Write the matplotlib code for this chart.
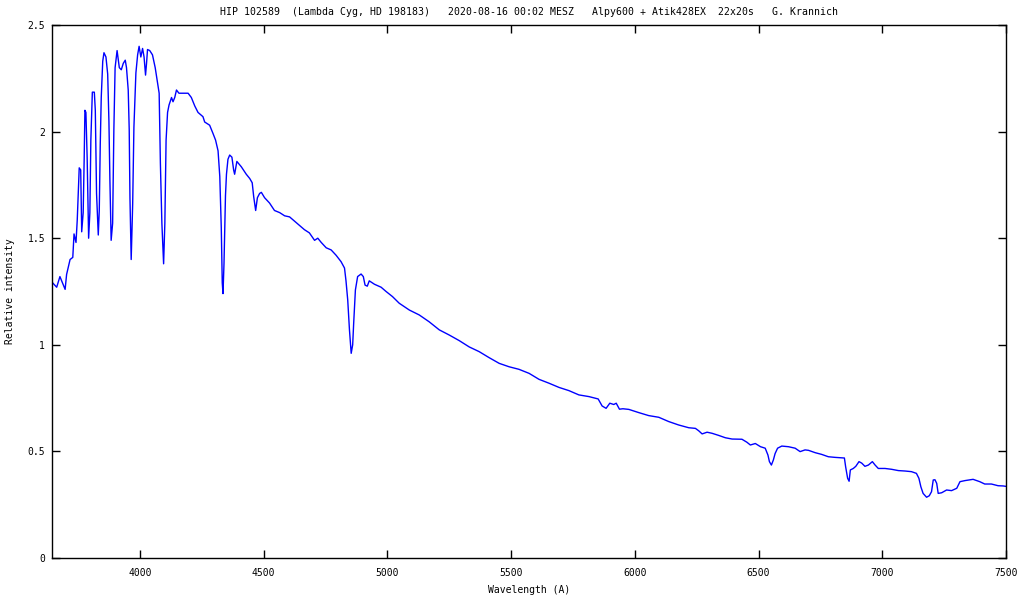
import matplotlib
matplotlib.use("Agg")
import matplotlib.pyplot as plt

# Spectrum (wavelength in Angstrom, relative intensity)
wavelength = [
    3648, 3664, 3677, 3691, 3698, 3704, 3718, 3729, 3734, 3742, 3747, 3755, 3761, 3765,
    3771, 3775, 3778, 3782, 3787, 3793, 3798, 3802, 3808, 3816, 3820, 3825, 3832, 3836,
    3840, 3844, 3850, 3855, 3863, 3870, 3875, 3879, 3884, 3890, 3895, 3900, 3908, 3917,
    3925, 3933, 3941, 3946, 3953, 3957, 3960, 3965, 3971, 3976, 3984, 3991, 3997, 4004,
    4011, 4017, 4023, 4027, 4031, 4040, 4051, 4062, 4070, 4078, 4083, 4089, 4096, 4101,
    4106, 4112, 4118, 4128, 4134, 4141, 4148, 4158, 4175, 4195, 4208, 4222, 4235, 4255,
    4262, 4282, 4296, 4306, 4316, 4323, 4329, 4333, 4336, 4340, 4346, 4350, 4356, 4363,
    4372, 4379, 4383, 4392, 4410, 4430, 4444, 4454, 4460, 4468, 4475, 4484, 4491, 4504,
    4524, 4544, 4565, 4585, 4605, 4625, 4645, 4665, 4685, 4706, 4719, 4733, 4753, 4773,
    4793, 4813, 4827, 4833, 4840, 4847, 4854, 4860, 4864, 4871, 4880, 4894, 4903, 4910,
    4919, 4927, 4948, 4975, 4995, 5021, 5048, 5089, 5129, 5169, 5210, 5250, 5290, 5331,
    5371, 5411, 5452, 5492, 5532, 5573, 5613, 5653, 5694, 5734, 5774, 5815, 5852, 5868,
    5884, 5899, 5915, 5925, 5938, 5952, 5976, 6016, 6056, 6097, 6137, 6177, 6218, 6245,
    6258, 6272, 6292, 6312, 6339, 6366, 6393, 6433, 6453, 6467, 6487, 6508, 6527, 6538,
    6544, 6552, 6560, 6567, 6577, 6594, 6621, 6648, 6668, 6688, 6702, 6729, 6755, 6782,
    6809, 6847, 6852, 6860, 6866, 6871, 6883, 6893, 6906, 6917, 6930, 6944, 6960, 6971,
    6984, 7011, 7038, 7065, 7092, 7118, 7138, 7148, 7156, 7165, 7179, 7190, 7199, 7206,
    7213, 7220, 7226, 7240, 7260, 7280, 7301, 7314, 7334, 7367, 7394, 7414, 7441, 7468,
    7488, 7500,
]
intensity = [
    1.29, 1.27, 1.32, 1.28, 1.26, 1.33, 1.40, 1.41, 1.52, 1.48, 1.585, 1.83, 1.82, 1.53,
    1.62, 1.87, 2.10, 2.09, 1.88, 1.50, 1.62, 1.96, 2.185, 2.185, 2.10, 1.71, 1.515, 1.63,
    1.94, 2.16, 2.33, 2.37, 2.35, 2.27, 2.05, 1.77, 1.49, 1.57, 2.01, 2.30, 2.38, 2.30,
    2.29, 2.32, 2.335, 2.30, 2.195, 2.01, 1.69, 1.40, 1.66, 2.02, 2.275, 2.36, 2.40, 2.35,
    2.39, 2.35, 2.265, 2.32, 2.385, 2.38, 2.36, 2.30, 2.24, 2.18, 1.85, 1.57, 1.38, 1.57,
    1.96, 2.09, 2.125, 2.16, 2.14, 2.16, 2.195, 2.18, 2.18, 2.18, 2.16, 2.12, 2.09, 2.07,
    2.045, 2.03, 1.99, 1.96, 1.91, 1.79, 1.55, 1.29, 1.24, 1.38, 1.70, 1.80, 1.87, 1.89,
    1.88, 1.82, 1.80, 1.86, 1.835, 1.80, 1.78, 1.76, 1.695, 1.63, 1.69, 1.71, 1.715, 1.69,
    1.665, 1.63, 1.62, 1.605, 1.60, 1.58, 1.56, 1.54, 1.525, 1.49, 1.50, 1.48, 1.455, 1.445,
    1.42, 1.39, 1.36, 1.30, 1.21, 1.07, 0.96, 1.00, 1.10, 1.257, 1.32, 1.332, 1.32, 1.28,
    1.275, 1.30, 1.284, 1.27, 1.25, 1.226, 1.195, 1.163, 1.14, 1.108, 1.07, 1.046, 1.02, 0.99,
    0.968, 0.94, 0.913, 0.897, 0.885, 0.866, 0.838, 0.82, 0.80, 0.785, 0.765, 0.757, 0.746, 0.713,
    0.702, 0.726, 0.72, 0.726, 0.698, 0.70, 0.697, 0.682, 0.668, 0.66, 0.64, 0.624, 0.611, 0.608,
    0.597, 0.582, 0.59, 0.585, 0.575, 0.564, 0.558, 0.557, 0.543, 0.53, 0.537, 0.522, 0.515, 0.483,
    0.452, 0.436, 0.46, 0.49, 0.515, 0.525, 0.522, 0.515, 0.499, 0.507, 0.505, 0.494, 0.486, 0.475,
    0.472, 0.469, 0.428, 0.374, 0.36, 0.413, 0.42, 0.43, 0.452, 0.445, 0.43, 0.436, 0.452, 0.436,
    0.42, 0.42, 0.416, 0.41, 0.408, 0.405, 0.397, 0.374, 0.334, 0.303, 0.285, 0.292, 0.311, 0.366,
    0.367, 0.35, 0.303, 0.306, 0.319, 0.316, 0.327, 0.358, 0.363, 0.369, 0.358, 0.347, 0.347, 0.339,
    0.338, 0.336,
]

x_ticks = [4000, 4500, 5000, 5500, 6000, 6500, 7000, 7500]
y_ticks = [0, 0.5, 1, 1.5, 2, 2.5]
y_tick_labels = ["0", "0.5", "1", "1.5", "2", "2.5"]

title = ("HIP 102589  (Lambda Cyg, HD 198183)   2020-08-16 00:02 MESZ   "
         "Alpy600 + Atik428EX  22x20s   G. Krannich")

plt.rcParams["font.family"] = "DejaVu Sans Mono"

fig = plt.figure(figsize=(10.24, 6.0), dpi=100)
ax = fig.add_axes([52 / 1024, 1 - 558 / 600, (1006 - 52) / 1024, (558 - 25) / 600])

ax.plot(wavelength, intensity, color="#0000ff", linewidth=1.0)

ax.set_xlim(3645, 7500)
ax.set_ylim(0, 2.5)
ax.set_xticks(x_ticks)
ax.set_yticks(y_ticks)
ax.set_yticklabels(y_tick_labels)
ax.tick_params(direction="in", length=6, width=1, top=True, right=True,
               labelsize=7, colors="black")
ax.tick_params(axis="x", pad=7)
ax.tick_params(axis="y", pad=5)
for spine in ax.spines.values():
    spine.set_linewidth(1.0)

ax.set_title(title, fontsize=7.1, pad=7)
ax.set_xlabel("Wavelength (A)", fontsize=7, labelpad=5)
ax.set_ylabel("Relative intensity", fontsize=7, labelpad=9)

fig.savefig("out.png", dpi=100)
